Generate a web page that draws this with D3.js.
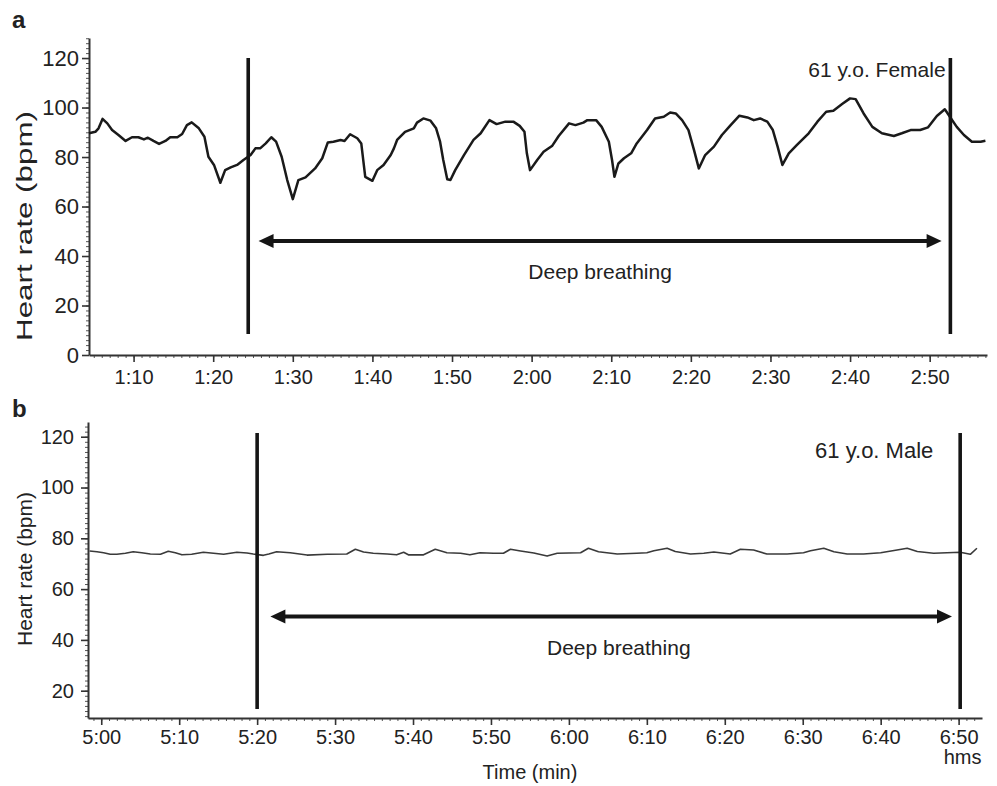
<!DOCTYPE html>
<html><head><meta charset="utf-8">
<script src="https://cdn.jsdelivr.net/npm/d3@7"></script>
<style>
body{margin:0;background:#fff}
svg{display:block}
text{font-family:"Liberation Sans",Arial,Helvetica,sans-serif;fill:#222}
</style>
</head><body><svg id="c" width="997" height="786"></svg>
<script>
// ---------------- DATA ----------------
// Panel a: time in seconds, heart rate in bpm (61 y.o. Female)
const timeA = [64.4,65.2,65.6,66.1,66.7,67.3,68.1,69.0,69.8,70.6,71.3,71.8,72.5,73.2,74.0,74.6,75.5,76.1,76.7,77.3,78.2,78.9,79.4,80.1,80.9,81.5,82.2,83.0,83.8,84.7,85.3,85.9,86.6,87.3,87.9,88.6,89.3,90.0,90.7,91.6,92.8,93.7,94.4,95.1,96.0,96.5,97.2,98.1,98.6,99.1,100.0,100.6,101.4,102.3,102.7,103.1,104.1,105.2,105.6,106.4,107.3,108.0,108.5,108.9,109.4,109.8,110.4,111.5,112.7,113.6,114.7,115.6,116.7,117.7,118.5,119.1,119.4,119.8,120.7,121.5,122.6,123.4,124.7,125.5,126.5,127.0,128.1,128.8,129.7,130.1,130.4,130.9,131.6,132.5,133.2,134.5,135.5,136.6,137.4,138.1,138.9,139.7,140.4,141.0,141.8,142.9,143.9,145.0,146.1,147.1,147.9,148.7,149.6,150.3,150.9,151.5,152.3,153.3,154.8,155.9,157.0,157.9,159.0,160.0,160.7,161.7,162.8,164.0,165.5,166.5,167.6,168.8,169.8,170.9,171.9,172.6,173.4,174.3,175.3,176.4,177.0];
const hrA = [89.6,90.2,91.6,95.4,93.6,90.9,88.9,86.5,88.0,88.0,87.1,87.8,86.5,85.3,86.5,88.0,88.0,89.3,92.9,94.0,91.6,88.2,80.1,76.8,69.6,74.7,75.8,76.8,78.8,80.8,83.5,83.5,85.5,88.0,86.2,80.1,70.7,63.0,70.7,71.8,75.4,79.5,85.9,86.2,86.9,86.5,89.2,87.6,85.5,72.0,70.4,74.7,76.8,80.8,83.5,86.9,90.2,91.6,93.9,95.6,94.7,91.6,86.2,78.8,71.0,70.7,74.7,80.8,86.9,89.6,94.9,93.3,94.3,94.3,92.6,90.2,81.5,74.7,78.8,82.1,84.6,88.5,93.6,92.9,93.9,94.9,94.9,92.2,86.2,78.8,72.0,77.4,79.5,81.5,85.5,90.9,95.6,96.3,98.0,97.6,94.9,90.9,82.8,75.4,80.8,84.2,88.9,92.9,96.7,96.0,94.9,95.6,94.3,90.9,84.2,76.8,81.5,84.8,89.6,94.3,98.3,98.7,101.4,103.7,103.4,97.6,92.2,89.6,88.5,89.6,90.9,90.9,92.0,96.6,99.3,96.0,92.2,88.9,86.2,86.2,86.6];

// Panel b: time in seconds, heart rate in bpm (61 y.o. Male)
const timeB = [298.5,299.45,300.3,301.15,302.0,303.1,304.1,305.2,306.3,307.6,308.6,309.5,310.35,311.6,313.1,314.4,315.7,317.4,318.7,319.5,320.8,321.5,322.5,324.25,326.4,329.0,331.5,332.6,333.65,334.9,336.7,337.9,338.8,339.4,341.35,342.85,344.35,346.1,347.3,348.6,350.3,351.6,352.5,353.8,355.5,357.2,358.5,361.5,362.5,363.8,366.2,368.7,370.0,370.9,372.6,373.65,375.6,377.3,378.6,380.7,382.0,383.7,385.4,388.0,390.1,391.0,392.7,394.0,395.7,397.8,400.0,402.1,403.4,404.7,406.8,408.5,410.2,411.5,412.35];
const hrB = [75.0,74.7,74.3,73.7,73.7,74.1,74.7,74.3,73.8,73.7,74.9,74.3,73.5,73.7,74.5,74.1,73.7,74.5,74.2,73.8,73.3,73.8,74.7,74.3,73.4,73.7,73.8,75.7,74.6,74.1,73.8,73.5,74.5,73.5,73.5,75.7,74.3,74.1,73.5,74.3,74.1,74.1,75.7,75.0,74.2,73.0,74.1,74.3,76.1,74.7,73.8,74.1,74.3,75.1,76.1,74.8,73.8,74.1,74.6,73.8,75.7,75.4,73.8,73.8,74.3,75.1,76.1,74.7,73.8,73.8,74.3,75.4,76.1,74.8,74.1,74.3,74.5,73.7,76.1];

// Axis ticks and labels
const xTicksA = [70,80,90,100,110,120,130,140,150,160,170];
const xLabelsA = ["1:10","1:20","1:30","1:40","1:50","2:00","2:10","2:20","2:30","2:40","2:50"];
const yTicksA = [0,20,40,60,80,100,120];
const xTicksB = [300,310,320,330,340,350,360,370,380,390,400,410];
const xLabelsB = ["5:00","5:10","5:20","5:30","5:40","5:50","6:00","6:10","6:20","6:30","6:40","6:50"];
const yTicksB = [20,40,60,80,100,120];

// Annotations: deep breathing start/end markers (s), arrow (s, bpm)
const markersA = [84.4, 172.6];
const markerSpanA = [8.5, 120];
const arrowA = {from:85.7, to:171.5, hr:46.1};
const markersB = [320, 410.2];
const markerSpanB = [12.8, 121.5];
const arrowB = {from:321.7, to:409.15, hr:49.2};
const labelsA = {subject:"61 y.o. Female", subjectT:172.0, subjectHr:112.5, phase:"Deep breathing", phaseT:128.6, phaseHr:30.7};
const labelsB = {subject:"61 y.o. Male", subjectT:406.75, subjectHr:111.6, phase:"Deep breathing", phaseT:366.4, phaseHr:34};

// ---------------- DRAWING ----------------
const svg = d3.select("#c");
const FONT = '"Liberation Sans",Arial,sans-serif';

function panel(cfg) {
  const x = d3.scaleLinear().domain(cfg.xDomain).range([cfg.left, cfg.right]);
  const y = d3.scaleLinear().domain(cfg.yDomain).range([cfg.bottom, cfg.top]);
  const g = svg.append("g");

  // minor ticks
  const minorX = d3.range(Math.ceil(cfg.xDomain[0]), cfg.xDomain[1], 1);
  g.append("g").attr("transform", `translate(0,${cfg.bottom})`)
    .call(d3.axisBottom(x).tickValues(minorX).tickSize(3).tickSizeOuter(0).tickFormat(""))
    .call(s => s.select(".domain").remove())
    .call(s => s.selectAll("line").attr("stroke", "#555").attr("stroke-width", 1));
  const minorY = d3.range(Math.ceil(cfg.yDomain[0] / 2) * 2, cfg.yDomain[1], 2);
  g.append("g").attr("transform", `translate(${cfg.left},0)`)
    .call(d3.axisLeft(y).tickValues(minorY).tickSize(3).tickSizeOuter(0).tickFormat(""))
    .call(s => s.select(".domain").remove())
    .call(s => s.selectAll("line").attr("stroke", "#555").attr("stroke-width", 1));

  // major axes
  const xa = g.append("g").attr("transform", `translate(0,${cfg.bottom})`)
    .call(d3.axisBottom(x).tickValues(cfg.xTicks).tickFormat((d, i) => cfg.xLabels[i])
      .tickSize(7).tickSizeOuter(0).tickPadding(cfg.xPad));
  xa.select(".domain").attr("stroke", "#333").attr("stroke-width", 2);
  xa.selectAll(".tick line").attr("stroke", "#333").attr("stroke-width", 1.6);
  xa.selectAll("text").attr("font-size", 20).attr("fill", "#222").attr("font-family", FONT);

  const ya = g.append("g").attr("transform", `translate(${cfg.left},0)`)
    .call(d3.axisLeft(y).tickValues(cfg.yTicks).tickSize(7).tickSizeOuter(0).tickPadding(cfg.yPad));
  ya.select(".domain").attr("stroke", "#333").attr("stroke-width", 2);
  ya.selectAll(".tick line").attr("stroke", "#333").attr("stroke-width", 1.6);
  ya.selectAll("text").attr("font-size", cfg.yFont).attr("fill", "#222").attr("font-family", FONT);

  // y label
  const yl = g.append("text")
    .attr("transform", `translate(${cfg.yLabelX},${cfg.yLabelY}) rotate(-90)`)
    .attr("text-anchor", "middle").attr("dominant-baseline", "central")
    .attr("font-size", cfg.yLabelFont).text("Heart rate (bpm)");
  if (cfg.yLabelLen) yl.attr("textLength", cfg.yLabelLen).attr("lengthAdjust", "spacingAndGlyphs");

  // heart-rate trace
  const line = d3.line().x(d => x(d[0])).y(d => y(d[1]));
  g.append("path").datum(d3.zip(cfg.times, cfg.hr))
    .attr("d", line).attr("fill", "none")
    .attr("stroke", cfg.lineColor).attr("stroke-width", cfg.lineWidth)
    .attr("stroke-linejoin", "round");

  // markers
  g.selectAll("line.marker").data(cfg.markers).join("line").attr("class", "marker")
    .attr("x1", d => x(d)).attr("x2", d => x(d))
    .attr("y1", y(cfg.markerSpan[0])).attr("y2", y(cfg.markerSpan[1]))
    .attr("stroke", "#151515").attr("stroke-width", 3.6);

  // double-headed arrow
  const ax1 = x(cfg.arrow.from), ax2 = x(cfg.arrow.to), ay = y(cfg.arrow.hr);
  const hl = 15, hw = 7;
  g.append("line").attr("x1", ax1 + hl - 1).attr("x2", ax2 - hl + 1).attr("y1", ay).attr("y2", ay)
    .attr("stroke", "#151515").attr("stroke-width", 4);
  g.append("path").attr("d", `M${ax1},${ay}L${ax1 + hl},${ay - hw}L${ax1 + hl},${ay + hw}Z`).attr("fill", "#151515");
  g.append("path").attr("d", `M${ax2},${ay}L${ax2 - hl},${ay - hw}L${ax2 - hl},${ay + hw}Z`).attr("fill", "#151515");

  // labels
  g.append("text").attr("x", x(cfg.labels.subjectT)).attr("y", y(cfg.labels.subjectHr))
    .attr("text-anchor", "end").attr("font-size", cfg.subjectFont).text(cfg.labels.subject);
  g.append("text").attr("x", x(cfg.labels.phaseT)).attr("y", y(cfg.labels.phaseHr))
    .attr("text-anchor", "middle").attr("font-size", 21).text(cfg.labels.phase);

  // panel letter
  g.append("text").attr("x", 12).attr("y", cfg.letterY).attr("font-size", 24)
    .attr("font-weight", "bold").attr("fill", "#111").text(cfg.letter);

  return {x, y, g};
}

panel({
  left: 89, right: 987, top: 38, bottom: 355,
  xDomain: [64.4, 177.2], yDomain: [0, 128.1],
  xTicks: xTicksA, xLabels: xLabelsA, xPad: 8, yTicks: yTicksA, yPad: 3, yFont: 22,
  yLabelX: 24, yLabelY: 226, yLabelFont: 22, yLabelLen: 230,
  times: timeA, hr: hrA, lineColor: "#1a1a1a", lineWidth: 2.5,
  markers: markersA, markerSpan: markerSpanA, arrow: arrowA, labels: labelsA, subjectFont: 21,
  letter: "a", letterY: 28
});

const pb = panel({
  left: 88, right: 982, top: 422, bottom: 718,
  xDomain: [298.3, 413.0], yDomain: [9.25, 125.8],
  xTicks: xTicksB, xLabels: xLabelsB, xPad: 5, yTicks: yTicksB, yPad: 7, yFont: 20,
  yLabelX: 24, yLabelY: 569, yLabelFont: 21, yLabelLen: null,
  times: timeB, hr: hrB, lineColor: "#3a3a3a", lineWidth: 1.6,
  markers: markersB, markerSpan: markerSpanB, arrow: arrowB, labels: labelsB, subjectFont: 22,
  letter: "b", letterY: 417
});

// extra x-axis text for panel b
pb.g.append("text").attr("x", pb.x(410) + 4).attr("y", 764)
  .attr("text-anchor", "middle").attr("font-size", 20).text("hms");
pb.g.append("text").attr("x", 530).attr("y", 779)
  .attr("text-anchor", "middle").attr("font-size", 20).text("Time (min)");
</script></body></html>
